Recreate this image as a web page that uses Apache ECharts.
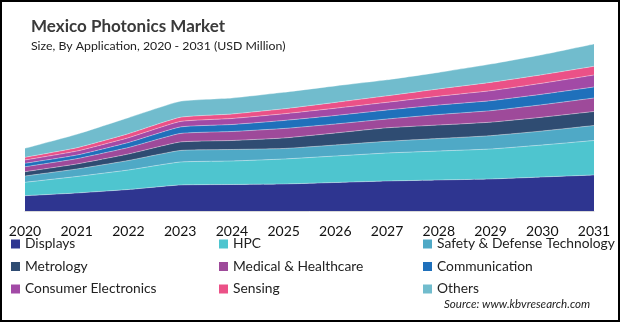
<!DOCTYPE html>
<html>
<head>
<meta charset="utf-8">
<script src="https://cdn.jsdelivr.net/npm/echarts@6/dist/echarts.min.js"></script>
<style>
  html, body { margin: 0; padding: 0; background: #fff; }
  #chart { width: 620px; height: 322px; }
</style>
</head>
<body>
<div id="chart"></div>
<script>
// Mexico photonics market size by application, USD million
const years = ['2020','2021','2022','2023','2024','2025','2026','2027','2028','2029','2030','2031'];

const displays      = [153, 180, 215, 260, 265, 270, 285, 300, 310, 320, 340, 360];
const hpc           = [134, 165, 195, 230, 235, 250, 265, 280, 290, 300, 320, 345];
const safety        = [63, 75, 95, 115, 115, 105, 110, 117, 125, 133, 140, 150];
const metrology     = [43, 50, 65, 85, 90, 105, 120, 135, 135, 135, 138, 140];
const medical       = [50, 53, 65, 85, 90, 95, 90, 88, 105, 115, 125, 135];
const communication = [34, 36, 50, 65, 70, 80, 85, 90, 95, 100, 105, 110];
const consumer      = [33, 40, 48, 55, 60, 67, 73, 77, 88, 100, 110, 120];
const sensing       = [27, 33, 40, 42, 45, 50, 58, 65, 73, 83, 85, 87];
const others        = [90, 135, 160, 160, 160, 165, 165, 160, 165, 183, 200, 223];

const seriesDefs = [
  { name: 'Displays', data: displays, color: '#2e3590' },
  { name: 'HPC', data: hpc, color: '#4ec5cf' },
  { name: 'Safety & Defense Technology', data: safety, color: '#4fa9c6' },
  { name: 'Metrology', data: metrology, color: '#2f4c72' },
  { name: 'Medical & Healthcare', data: medical, color: '#9e4a9a' },
  { name: 'Communication', data: communication, color: '#1f70bb' },
  { name: 'Consumer Electronics', data: consumer, color: '#a24aa6' },
  { name: 'Sensing', data: sensing, color: '#eb5187' },
  { name: 'Others', data: others, color: '#71bccd' }
];

const FONT = 'Lato, "Open Sans", sans-serif';

const legendCommon = {
  orient: 'vertical',
  icon: 'rect',
  itemWidth: 9,
  itemHeight: 9,
  itemGap: 8.5,
  textStyle: { fontSize: 13.8, color: '#222', fontFamily: FONT, padding: [0, 0, 0, 0] },
  top: 237,
  padding: 0
};

const chart = echarts.init(document.getElementById('chart'), null, { renderer: 'canvas' });
chart.setOption({
  animation: false,
  title: [
    {
      text: 'Mexico Photonics Market',
      left: 31, top: 18, padding: 0,
      textStyle: { fontSize: 17, fontWeight: 'bold', color: '#3a3a3a', fontFamily: FONT }
    },
    {
      text: 'Size, By Application, 2020 - 2031 (USD Million)',
      left: 31, top: 40, padding: 0,
      textStyle: { fontSize: 12.3, fontWeight: 'normal', color: '#222', fontFamily: FONT }
    },
    {
      text: 'Source: www.kbvresearch.com',
      left: 444, top: 298, padding: 0,
      textStyle: { fontSize: 11.6, fontStyle: 'italic', fontWeight: 'normal', color: '#222', fontFamily: FONT }
    }
  ],
  legend: [
    Object.assign({}, legendCommon, { left: 11, data: ['Displays', 'Metrology', 'Consumer Electronics'] }),
    Object.assign({}, legendCommon, { left: 219, data: ['HPC', 'Medical & Healthcare', 'Sensing'] }),
    Object.assign({}, legendCommon, { left: 423, data: ['Safety & Defense Technology', 'Communication', 'Others'] })
  ],
  grid: { left: 25, right: 26, top: 40, height: 171, containLabel: false },
  xAxis: {
    type: 'category',
    data: years,
    boundaryGap: false,
    axisLine: { show: true, lineStyle: { color: '#d9d9d9', width: 1 } },
    axisTick: { show: false },
    axisLabel: { color: '#111', fontSize: 14, fontFamily: FONT, margin: 13 },
    splitLine: { show: false }
  },
  yAxis: {
    type: 'value',
    min: 0, max: 1710,
    show: false,
    splitLine: { show: false }
  },
  graphic: [
    {
      type: 'rect',
      shape: { x: 1, y: 1, width: 618, height: 320 },
      style: { fill: 'none', stroke: '#000', lineWidth: 2 },
      z: 100
    }
  ],
  series: seriesDefs.map(s => ({
    name: s.name,
    type: 'line',
    stack: 'total',
    data: s.data,
    smooth: 0.15,
    symbol: 'none',
    color: s.color,
    lineStyle: { width: 0.8, color: 'rgba(255,255,255,0.45)' },
    areaStyle: { color: s.color, opacity: 1 }
  }))
});
</script>
</body>
</html>
